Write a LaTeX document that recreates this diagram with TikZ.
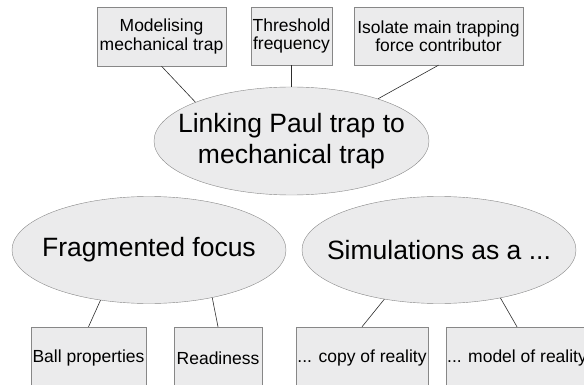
\documentclass[tikz,border=0pt]{standalone}
\usepackage{fontspec}
\setmainfont{Liberation Sans}
\usetikzlibrary{shapes.geometric,positioning}
\definecolor{bubblegray}{RGB}{235,235,236}
\definecolor{rimgray}{RGB}{135,135,135}
\definecolor{wiregray}{RGB}{45,45,45}

\begin{document}
\begin{tikzpicture}[x=1pt,y=-1pt,
  bubble/.style={ellipse,draw=rimgray,fill=bubblegray,inner xsep=-60pt,inner ysep=0pt,align=center,font=\fontsize{26.5}{31.6}\selectfont},
  tag/.style={rectangle,draw=rimgray,fill=bubblegray,inner sep=1pt,align=center,font=\fontsize{17.5}{18.5}\selectfont},
  wire/.style={draw=wiregray,line width=0.6pt}]
 % frame
 \useasboundingbox (0,0) rectangle (584,385);
 \clip (0,0) rectangle (584,385);

 % coordinates
 \coordinate (c0) at (291.5,141);
 \coordinate (c1) at (149,250);
 \coordinate (c2) at (439,250);
 \coordinate (t1) at (161.5,36.5);
 \coordinate (t2) at (291.5,36);
 \coordinate (t3) at (438.5,36);
 \coordinate (b1) at (88.5,358);
 \coordinate (b2) at (218,358);
 \coordinate (b3) at (362,358);
 \coordinate (b4) at (517,358);

 % ellipses
 \node (link) at (c0) [bubble,minimum width=275,minimum height=108] {Linking Paul trap to\\mechanical trap};
 \node (focus) at (c1) [bubble,minimum width=274,minimum height=107] {Fragmented focus};
 \node (sims) at (c2) [bubble,minimum width=274,minimum height=107] {Simulations as a ...};

 % boxes
 \node (model) at (t1) [tag,minimum width=129,minimum height=59] {Modelising\\mechanical trap};
 \node (thresh) at (t2) [tag,minimum width=81,minimum height=58] {Threshold\\frequency};
 \node (isolate) at (t3) [tag,minimum width=169,minimum height=58] {Isolate main trapping\\force contributor};
 \node (ball) at (b1) [tag,minimum width=115,minimum height=62] {Ball properties};
 \node (ready) at (b2) [tag,minimum width=88,minimum height=62] {Readiness};
 \node (copy) at (b3) [tag,minimum width=132,minimum height=62] {... copy of reality};
 \node (mimic) at (b4) [tag,minimum width=140,minimum height=62] {... model of reality};

 % connectors
 \foreach \a/\b in {model.south/link.158, thresh.south/link.north, isolate.south/link.26,
   focus.226/ball.north, focus.323/ready.north, sims.222/copy.north, sims.322/mimic.north} {
  \draw[wire] (\a) -- (\b);
 };
\end{tikzpicture}
\end{document}
